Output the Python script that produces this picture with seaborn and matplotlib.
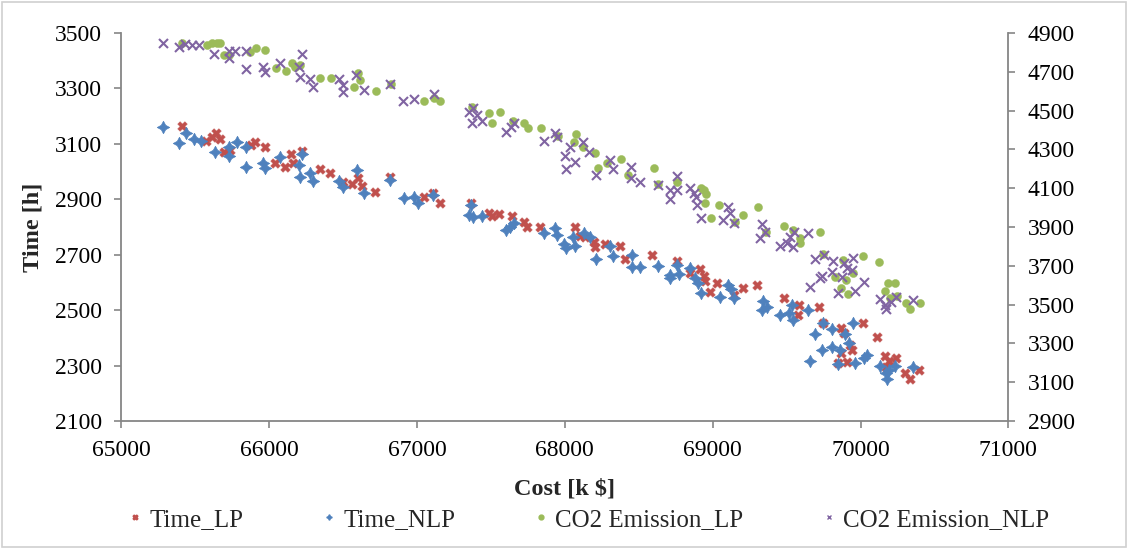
import numpy as np
import pandas as pd
import seaborn as sns
import matplotlib
matplotlib.use("Agg")
import matplotlib.pyplot as plt
from matplotlib.lines import Line2D
from matplotlib.patches import Rectangle

# Time_LP (red)
time_lp_cost = [65411, 65575, 65613, 65643, 65665, 65692, 65733, 65877, 65906, 65969,
                66042, 66109, 66148, 66165, 66222, 66341, 66414, 66500, 66560, 66598,
                66628, 66718, 66815, 67049, 67108, 67153, 67365, 67484, 67507, 67552,
                67643, 67721, 67744, 67829, 68071, 68105, 68139, 68195, 68206, 68274,
                68375, 68409, 68590, 68759, 68844, 68916, 68939, 68950, 68984, 69029,
                69142, 69205, 69300, 69480, 69581, 69574, 69717, 69746, 69868, 69890,
                69926, 69942, 69868, 69909, 69845, 70017, 70112, 70168, 70190, 70242,
                70303, 70332, 70393, 70174]
time_lp = [3166, 3110, 3126, 3138, 3116, 3072, 3078, 3096, 3108, 3090,
           3030, 3018, 3063, 3032, 3075, 3008, 2996, 2964, 2955, 2976,
           2948, 2927, 2979, 2907, 2924, 2888, 2886, 2852, 2840, 2847,
           2840, 2819, 2801, 2801, 2799, 2768, 2763, 2747, 2729, 2739,
           2732, 2684, 2699, 2678, 2635, 2647, 2623, 2606, 2567, 2597,
           2555, 2579, 2591, 2543, 2519, 2483, 2512, 2455, 2435, 2417,
           2374, 2356, 2347, 2314, 2310, 2453, 2404, 2335, 2318, 2326,
           2274, 2251, 2284, 2296]

# Time_NLP (blue)
time_nlp_cost = [65282, 65388, 65440, 65489, 65539, 65631, 65731, 65731, 65783, 65843,
                 65843, 65958, 65969, 66071, 66222, 66199, 66211, 66274, 66297, 66470,
                 66500, 66594, 66644, 66820, 66910, 66982, 67004, 67108, 67365, 67349,
                 67379, 67440, 67604, 67631, 67658, 67856, 67936, 67947, 67996, 68010,
                 68055, 68071, 68127, 68172, 68213, 68303, 68326, 68454, 68454, 68506,
                 68630, 68709, 68709, 68759, 68770, 68844, 68883, 68898, 68923, 69047,
                 69101, 69124, 69146, 69340, 69333, 69367, 69453, 69514, 69536, 69543,
                 69642, 69694, 69746, 69807, 69739, 69656, 69807, 69863, 69897, 69920,
                 69949, 69845, 69965, 70021, 70044, 70129, 70174, 70179, 70190, 70235,
                 70355]
time_nlp = [3160, 3104, 3138, 3116, 3111, 3070, 3090, 3056, 3107, 3090,
            3018, 3032, 3012, 3052, 3063, 3024, 2982, 2996, 2967, 2967,
            2945, 3006, 2922, 2970, 2906, 2909, 2888, 2916, 2879, 2843,
            2837, 2840, 2789, 2801, 2813, 2777, 2795, 2771, 2739, 2723,
            2765, 2732, 2779, 2765, 2683, 2732, 2695, 2699, 2657, 2657,
            2659, 2627, 2615, 2663, 2630, 2651, 2615, 2597, 2563, 2549,
            2591, 2575, 2543, 2534, 2501, 2512, 2483, 2491, 2519, 2465,
            2501, 2414, 2453, 2431, 2356, 2318, 2368, 2356, 2414, 2380,
            2455, 2306, 2310, 2326, 2338, 2299, 2272, 2251, 2284, 2299,
            2294]

# CO2 Emission_LP (green)
co2_lp_cost = [65411, 65580, 65613, 65647, 65670, 65692, 65726, 65873, 65913, 65974,
               66048, 66116, 66155, 66177, 66206, 66346, 66420, 66571, 66598, 66612,
               66725, 66824, 67049, 67117, 67158, 67372, 67484, 67559, 67507, 67649,
               67721, 67748, 67839, 67951, 68078, 68064, 68123, 68206, 68222, 68285,
               68382, 68425, 68600, 68628, 68759, 68921, 68939, 68957, 68950, 68989,
               69040, 69205, 69153, 69304, 69363, 69485, 69543, 69588, 69593, 69723,
               69746, 69829, 69881, 69904, 69949, 69868, 69913, 70017, 70122, 70183,
               70235, 70168, 70197, 70247, 70310, 70337, 70400]
co2_lp = [4850, 4838, 4847, 4850, 4850, 4787, 4787, 4804, 4821, 4812,
          4718, 4706, 4747, 4726, 4735, 4666, 4666, 4620, 4695, 4658,
          4601, 4637, 4551, 4563, 4551, 4520, 4486, 4494, 4438, 4448,
          4438, 4409, 4409, 4369, 4379, 4340, 4314, 4280, 4203, 4231,
          4250, 4168, 4203, 4122, 4133, 4099, 4091, 4070, 4025, 3945,
          4013, 3962, 3927, 4001, 3876, 3905, 3884, 3842, 3816, 3876,
          3761, 3644, 3730, 3627, 3661, 3584, 3555, 3750, 3718, 3613,
          3613, 3572, 3532, 3544, 3507, 3476, 3507]

# CO2 Emission_NLP (purple)
co2_nlp_cost = [65282, 65388, 65433, 65478, 65523, 65629, 65726, 65726, 65771, 65846,
                65846, 65958, 65969, 66071, 66222, 66199, 66211, 66274, 66297, 66470,
                66500, 66500, 66590, 66644, 66820, 66905, 66982, 67112, 67349, 67379,
                67372, 67406, 67440, 67604, 67636, 67654, 67856, 67936, 67947, 67998,
                68010, 68032, 68123, 68161, 68071, 68213, 68303, 68326, 68450, 68450,
                68506, 68630, 68709, 68759, 68759, 68709, 68844, 68889, 68894, 68923,
                68876, 69101, 69119, 69070, 69146, 69333, 69356, 69322, 69457, 69503,
                69525, 69548, 69543, 69642, 69694, 69750, 69814, 69728, 69739, 69656,
                69807, 69890, 69908, 69949, 69942, 69875, 69845, 69965, 70021, 70129,
                70168, 70174, 70206, 70242, 70355]
co2_nlp = [4847, 4829, 4843, 4838, 4838, 4790, 4809, 4770, 4809, 4809,
           4713, 4723, 4700, 4744, 4792, 4726, 4675, 4661, 4623, 4661,
           4632, 4597, 4683, 4606, 4637, 4549, 4560, 4586, 4494, 4512,
           4435, 4477, 4448, 4391, 4417, 4438, 4345, 4383, 4365, 4266,
           4197, 4314, 4340, 4288, 4237, 4168, 4245, 4197, 4208, 4151,
           4133, 4116, 4091, 4091, 4164, 4043, 4099, 4053, 4013, 3945,
           4073, 4005, 3974, 3936, 3919, 3915, 3876, 3842, 3802, 3819,
           3850, 3876, 3798, 3871, 3733, 3756, 3726, 3635, 3647, 3589,
           3670, 3716, 3687, 3739, 3678, 3641, 3558, 3572, 3618, 3527,
           3498, 3476, 3515, 3541, 3524]

red = "#C0504D"
blue = "#4F81BD"
green = "#9BBB59"
purple = "#8064A2"
axis_gray = "#868686"

sns.set_style("white")
plt.rcParams['font.family'] = ['Liberation Serif', 'DejaVu Serif']

fig = plt.figure(figsize=(11.33, 5.5), dpi=100)
ax = fig.add_axes([0.107, 0.2345, 0.783, 0.7055])
ax2 = ax.twinx()

star4 = (4, 1, 0)

sns.scatterplot(x=time_lp_cost, y=time_lp, ax=ax, marker="X", s=48, color=red,
                edgecolor=red, linewidth=0.3, zorder=3)
sns.scatterplot(x=time_nlp_cost, y=time_nlp, ax=ax, marker=star4, s=80, color=blue,
                edgecolor=blue, linewidth=0.5, zorder=3)
sns.scatterplot(x=co2_lp_cost, y=co2_lp, ax=ax2, marker="o", s=34, color=green,
                edgecolor=green, linewidth=0.3, zorder=3)
sns.scatterplot(x=co2_nlp_cost, y=co2_nlp, ax=ax2, marker="x", s=42, color=purple,
                linewidth=1.5, zorder=3)

ax.set_xlim(65000, 71000)
ax.set_ylim(2100, 3500)
ax2.set_ylim(2900, 4900)
ax.set_xticks(np.arange(65000, 71001, 1000))
ax.set_yticks(np.arange(2100, 3501, 200))
ax2.set_yticks(np.arange(2900, 4901, 200))

for a in (ax, ax2):
    a.spines['top'].set_visible(False)
    for side in ('left', 'right', 'bottom'):
        a.spines[side].set_color(axis_gray)
        a.spines[side].set_linewidth(1.3)
    a.tick_params(axis='both', which='major', direction='out', length=5, width=1.2,
                  color=axis_gray, labelsize=17, labelcolor='black', pad=9)
ax.spines['right'].set_visible(False)
ax2.spines['left'].set_visible(False)
ax2.spines['bottom'].set_visible(False)
ax.tick_params(axis='y', left=True, right=False)
ax.tick_params(axis='x', bottom=True)
ax2.tick_params(axis='y', right=True, left=False)

ax.set_xlabel(r"Cost [k \$]", fontsize=17.5, fontweight='bold', labelpad=12)
ax.set_ylabel("Time [h]", fontsize=17.5, fontweight='bold', labelpad=8)
ax2.set_ylabel("")

handles = [
    Line2D([], [], linestyle='none', marker='X', color=red, markersize=3.5),
    Line2D([], [], linestyle='none', marker=star4, color=blue, markersize=4),
    Line2D([], [], linestyle='none', marker='o', color=green, markersize=3.5),
    Line2D([], [], linestyle='none', marker='x', color=purple, markersize=3.5, markeredgewidth=1),
]
labels = ["Time_LP", "Time_NLP", "CO2 Emission_LP", "CO2 Emission_NLP"]
fig.legend(handles, labels, loc='center', bbox_to_anchor=(0.52, 0.055), ncol=4,
           frameon=False, fontsize=18, columnspacing=3.2, handletextpad=0.3,
           handlelength=0.5)

fig.patches.append(Rectangle((0.002, 0.006), 0.992, 0.99, transform=fig.transFigure,
                             fill=False, edgecolor='#d0d0d0', linewidth=1.2))

fig.savefig("out.png", dpi=100)
